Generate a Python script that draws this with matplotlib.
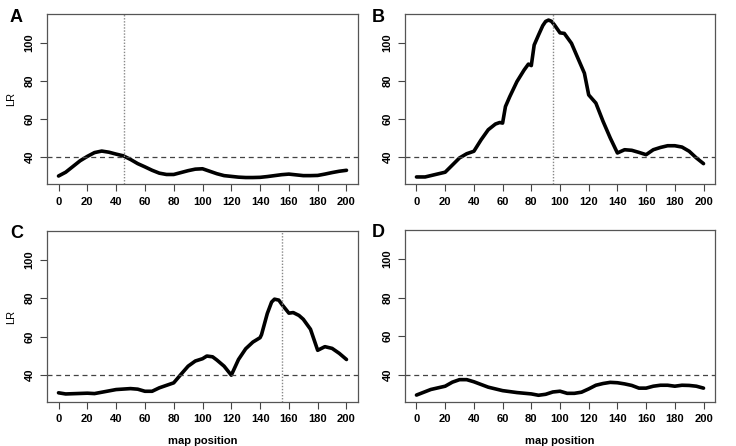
import numpy as np
import matplotlib.pyplot as plt

plt.rcParams['font.family'] = ['Liberation Sans', 'DejaVu Sans']

# map positions (cM) and LR profiles
pos_a = [0, 5, 10, 15, 20, 25, 30, 35, 40, 45, 50, 55, 60, 65, 70, 75, 80, 85, 90, 95, 100,
         105, 110, 115, 120, 125, 130, 135, 140, 145, 150, 155, 160, 165, 170, 175, 180, 185, 190, 195, 200]
lr_a = [30, 32, 35, 38, 40.3, 42.3, 43.1, 42.5, 41.5, 40.6, 38.7, 36.5, 34.8, 33, 31.5, 30.8, 30.8,
        31.8, 32.8, 33.6, 33.8, 32.5, 31.2, 30.2, 29.8, 29.4, 29.2, 29.2, 29.3, 29.7, 30.2, 30.7,
        31, 30.6, 30.2, 30.2, 30.3, 31, 31.8, 32.5, 33]

pos_b = [0, 6, 20, 30, 35, 40, 45, 50, 55, 58, 60, 62, 65, 70, 75, 78, 80, 82, 85, 88, 90, 92, 94,
         96, 100, 103, 108, 112, 117, 120, 125, 130, 135, 140, 145, 150, 155, 160, 165, 170, 175,
         180, 185, 190, 195, 200]
lr_b = [29.5, 29.5, 32, 39.5, 41.7, 43, 49, 54.3, 57.3, 58.1, 57.8, 66.5, 71.7, 79.6, 85.7, 88.8,
        88, 98.8, 104, 109, 111.2, 111.9, 111.3, 109.5, 105.2, 104.9, 99.7, 92.7, 84, 72.6, 68.3,
        58.7, 50, 42.1, 43.8, 43.5, 42.4, 41.2, 43.8, 45, 45.9, 45.9, 45.2, 43, 39.5, 36.5]

pos_c = [0, 5, 20, 25, 40, 50, 55, 60, 65, 70, 80, 85, 90, 95, 100, 103, 107, 110, 115, 120, 125,
         130, 135, 140, 141, 145, 148, 150, 153, 155, 160, 163, 167, 170, 175, 180, 185, 190, 195, 200]
lr_c = [30.6, 30, 30.4, 30.2, 32.3, 32.8, 32.5, 31.4, 31.4, 33.2, 35.8, 40.2, 44.5, 47.2, 48.4,
        49.8, 49.4, 47.7, 44.5, 39.8, 48, 53.6, 57.1, 59.4, 61, 72, 78, 79.5, 79, 76.9, 72.2, 72.5,
        71, 69, 63.8, 52.8, 54.7, 53.8, 51.2, 48]

pos_d = [0, 10, 20, 25, 30, 35, 40, 50, 60, 70, 80, 85, 90, 95, 100, 105, 110, 115, 120, 125, 130,
         135, 140, 145, 150, 155, 160, 165, 170, 175, 180, 185, 190, 195, 200]
lr_d = [29.4, 32.3, 34, 36.1, 37.4, 37.4, 36.3, 33.5, 31.7, 30.7, 30, 29.3, 29.8, 31, 31.4, 30.3,
        30.3, 30.9, 32.6, 34.5, 35.4, 36, 35.8, 35.2, 34.4, 33, 33, 34, 34.5, 34.5, 34, 34.5, 34.4,
        34, 33]

panels = [
    ('A', pos_a, lr_a, 45.5),
    ('B', pos_b, lr_b, 95),
    ('C', pos_c, lr_c, 155.5),
    ('D', pos_d, lr_d, None),
]
threshold = 40

fig = plt.figure(figsize=(7.36, 4.46), dpi=100)
W, H = 736, 446
boxes = [(47, 14, 358, 184), (405, 14, 715, 184), (47, 231, 358, 402), (405, 230, 715, 402)]

for i, ((lab, x, y, vline), (l, t, r, b)) in enumerate(zip(panels, boxes)):
    ax = fig.add_axes([l / W, 1 - b / H, (r - l) / W, (b - t) / H])
    ax.plot(x, y, color='black', lw=2.6, solid_capstyle='round', solid_joinstyle='round')
    ax.axhline(threshold, color='#444444', ls=(0, (4, 3)), lw=0.9)
    if vline is not None:
        ax.axvline(vline, color='#888888', ls=(0, (1, 1.2)), lw=1.0)
    ax.set_xlim(-8, 208)
    ax.set_ylim(25.8, 115.1)
    ax.set_xticks(np.arange(0, 201, 20))
    ax.set_yticks([40, 60, 80, 100])
    ax.tick_params(length=5, width=0.8, color='#444444', labelsize=8, pad=4)
    for lbl in ax.get_xticklabels():
        lbl.set_fontweight('bold')
    for lbl in ax.get_yticklabels():
        lbl.set_fontweight('bold')
        lbl.set_rotation(90)
        lbl.set_va('center')
    for s in ax.spines.values():
        s.set_color('#555555')
        s.set_linewidth(0.9)
    if i % 2 == 0:
        ax.set_ylabel('LR', fontsize=8, labelpad=6)
    if i >= 2:
        ax.set_xlabel('map position', fontsize=8, fontweight='bold', labelpad=8)
    fig.text((l - 37) / W if i % 2 == 0 else (l - 33) / W, 1 - (t + 3) / H, lab,
             fontsize=13, fontweight='bold', ha='left', va='center')

fig.savefig('out.png', dpi=100)
